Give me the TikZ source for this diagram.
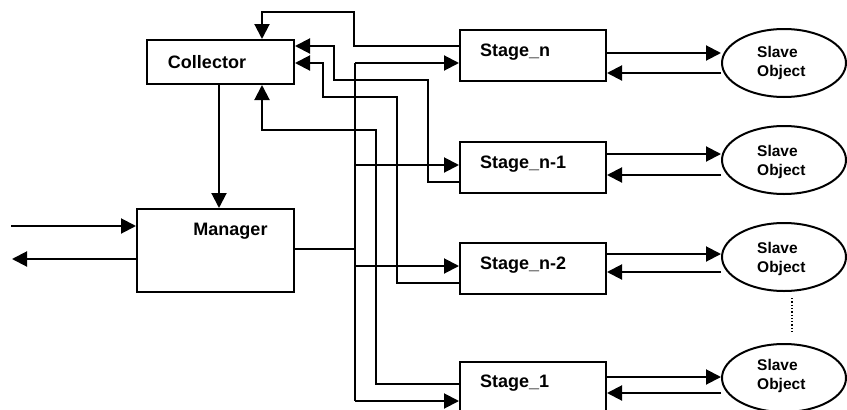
\documentclass[tikz,border=0pt]{standalone}
\usepackage{fontspec}
\setmainfont{Liberation Sans}
\usetikzlibrary{arrows.meta,shapes.geometric}
\begin{document}
\begin{tikzpicture}[x=1pt,y=-1pt,
  box/.style={draw, line width=2pt, inner sep=0pt, rectangle, anchor=north west},
  lbl/.style={font=\bfseries\fontsize{18}{21}\selectfont, inner sep=0pt},
  slv/.style={draw, ellipse, line width=2pt, minimum width=124pt, minimum height=68pt, inner sep=0pt},
  slvt/.style={font=\bfseries\fontsize{15.5}{19}\selectfont, align=left, inner sep=0pt, anchor=west},
  wire/.style={line width=2pt},
  arr/.style={wire, -{Triangle[length=15pt,width=15pt]}},
  dots/.style={line width=1.3pt, dotted},
]
\useasboundingbox (0,0) rectangle (847,410);
% boxes
\node[box, minimum width=147pt, minimum height=44pt] (coll) at (146,39) {};
\node[lbl] (collT) at (207,62) {Collector};
\node[box, minimum width=157pt, minimum height=83pt] (mgr) at (136,208) {};
\node[lbl] (mgrT) at (230.5,231) {Manager};
\node[box, minimum width=146pt, minimum height=51pt] (sn) at (459,29) {};
\node[box, minimum width=146pt, minimum height=51pt] (sn1) at (459,141) {};
\node[box, minimum width=146pt, minimum height=51pt] (sn2) at (459,242) {};
\node[box, minimum width=146pt, minimum height=51pt] (s1) at (459,361) {};
\node[lbl, anchor=west] (snT) at (480,52) {Stage\_n};
\node[lbl, anchor=west] (sn1T) at (480,164) {Stage\_n-1};
\node[lbl, anchor=west] (sn2T) at (480,265) {Stage\_n-2};
\node[lbl, anchor=west] (s1T) at (480,383) {Stage\_1};
% slave objects
\node[slv] (e1) at (784,63) {};
\node[slv] (e2) at (784,160) {};
\node[slv] (e3) at (784,257) {};
\node[slv] (e4) at (784,378) {};
\node[slvt] (e1T) at (757,62.5) {Slave\\Object};
\node[slvt] (e2T) at (757,161.5) {Slave\\Object};
\node[slvt] (e3T) at (757,258.5) {Slave\\Object};
\node[slvt] (e4T) at (757,376) {Slave\\Object};
\draw[dots] (792,298) -- (792,332);
% stage <-> slave
\draw[arr] (sn.east |- 0,53) -- (e1.west |- 0,53);
\draw[arr] (e1.west |- 0,73) -- (sn.east |- 0,73);
\draw[arr] (sn1.east |- 0,154) -- (e2.west |- 0,154);
\draw[arr] (e2.west |- 0,175) -- (sn1.east |- 0,175);
\draw[arr] (sn2.east |- 0,254) -- (e3.west |- 0,254);
\draw[arr] (e3.west |- 0,272) -- (sn2.east |- 0,272);
\draw[arr] (s1.east |- 0,377) -- (e4.west |- 0,377);
\draw[arr] (e4.west |- 0,393) -- (s1.east |- 0,393);
% manager external
\coordinate (inL) at (11,226);
\coordinate (outL) at (12,259);
\draw[arr] (inL) -- (mgr.west |- inL);
\draw[arr] (mgr.west |- outL) -- (outL);
% collector -> manager
\draw[arr] (coll.south -| 219,0) -- (mgr.north -| 219,0);
% manager bus
\draw[wire] (mgr.east |- 0,249) -- (355,249);
\draw[wire] (355,63) -- (355,401);
\draw[arr] (355,63) -- (sn.west |- 0,63);
\draw[arr] (355,165) -- (sn1.west |- 0,165);
\draw[arr] (355,266) -- (sn2.west |- 0,266);
\draw[arr] (355,401) -- (s1.west |- 0,401);
% feedback to collector
\draw[arr] (sn.west |- 0,46) -- (354,46) -- (354,12) -- (262,12) -- (coll.north -| 262,0);
\draw[arr] (sn1.west |- 0,182) -- (428,182) -- (428,80) -- (334,80) -- (334,46) -- (coll.east |- 0,46);
\draw[arr] (sn2.west |- 0,283) -- (397,283) -- (397,97) -- (323,97) -- (323,63) -- (coll.east |- 0,63);
\draw[arr] (s1.west |- 0,384) -- (376,384) -- (376,130) -- (262,130) -- (coll.south -| 262,0);
\end{tikzpicture}
\end{document}
